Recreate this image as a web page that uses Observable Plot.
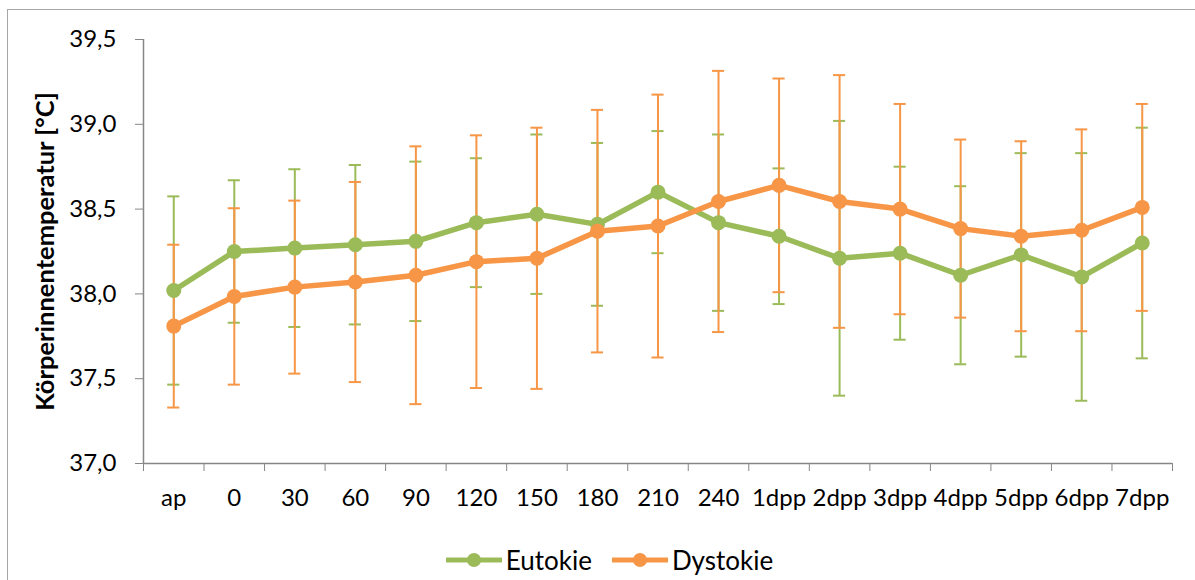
<!DOCTYPE html>
<html>
<head>
<meta charset="utf-8">
<script src="https://cdn.jsdelivr.net/npm/d3@7"></script>
<script src="https://cdn.jsdelivr.net/npm/@observablehq/plot@0.6"></script>
<style>
  body { margin: 0; background: #fff; font-family: Lato, "Open Sans", sans-serif; }
  #frame { position: relative; width: 1195px; height: 580px; overflow: hidden; }
  #border { position: absolute; left: 7px; top: 9px; width: 1300px; height: 700px; border: 1px solid #a6a6a6; }
  #chart { position: absolute; left: 0; top: 0; }
  #chart g[aria-label="y-axis label"] text { font-weight: bold; font-size: 25.5px; }
  #legend { position: absolute; left: 12px; top: 544px; width: 1195px; display: flex; justify-content: center; align-items: center; font-size: 26px; color: #000; }
  .item { display: flex; align-items: center; margin: 0 10px; }
  .item svg { margin-right: 4px; }
</style>
</head>
<body>
<div id="frame">
  <div id="border"></div>
  <div id="chart"></div>
  <div id="legend"></div>
</div>
<script>
// Time points: ante partum, minutes after birth, days post partum
const categories = ["ap", "0", "30", "60", "90", "120", "150", "180", "210", "240",
  "1dpp", "2dpp", "3dpp", "4dpp", "5dpp", "6dpp", "7dpp"];

// Mean body core temperature (°C) and standard deviation per group
const eutokieMean = [38.02, 38.25, 38.27, 38.29, 38.31, 38.42, 38.47, 38.41, 38.60, 38.42,
  38.34, 38.21, 38.24, 38.11, 38.23, 38.10, 38.30];
const eutokieSD = [0.555, 0.42, 0.465, 0.47, 0.47, 0.38, 0.47, 0.48, 0.36, 0.52,
  0.40, 0.81, 0.51, 0.525, 0.60, 0.73, 0.68];
const dystokieMean = [37.81, 37.985, 38.04, 38.07, 38.11, 38.19, 38.21, 38.37, 38.40, 38.545,
  38.64, 38.545, 38.50, 38.385, 38.34, 38.375, 38.51];
const dystokieSD = [0.48, 0.52, 0.51, 0.59, 0.76, 0.745, 0.77, 0.715, 0.775, 0.77,
  0.63, 0.745, 0.62, 0.525, 0.56, 0.595, 0.61];

const seriesNames = ["Eutokie", "Dystokie"];
const yTicks = [37.0, 37.5, 38.0, 38.5, 39.0, 39.5];

const colors = { Eutokie: "#9bbb59", Dystokie: "#f79646" };
const axisColor = "#868686";
const capHalf = 0.1; // half width of the error bar caps, in category steps

const rows = (mean, sd, series) => categories.map((cat, i) => ({
  i, cat, series, mean: mean[i], lo: mean[i] - sd[i], hi: mean[i] + sd[i]
}));
const eu = rows(eutokieMean, eutokieSD, "Eutokie");
const dy = rows(dystokieMean, dystokieSD, "Dystokie");

const fmt = d => d.toFixed(1).replace(".", ",");
const idx = categories.map((_, i) => i);
const bounds = d3.range(categories.length + 1).map(i => i - 0.5);

function errorBars(data) {
  const c = colors[data[0].series];
  return [
    Plot.ruleX(data, { x: "i", y1: "lo", y2: "hi", stroke: c, strokeWidth: 2 }),
    Plot.ruleY(data, { y: "hi", x1: d => d.i - capHalf, x2: d => d.i + capHalf, stroke: c, strokeWidth: 2 }),
    Plot.ruleY(data, { y: "lo", x1: d => d.i - capHalf, x2: d => d.i + capHalf, stroke: c, strokeWidth: 2 })
  ];
}
function series(data) {
  const c = colors[data[0].series];
  return [
    Plot.line(data, { x: "i", y: "mean", stroke: c, strokeWidth: 5.5 }),
    Plot.dot(data, { x: "i", y: "mean", r: 7.5, fill: c, stroke: "none" })
  ];
}

const chart = Plot.plot({
  width: 1195,
  height: 520,
  marginTop: 39,
  marginBottom: 57,
  marginLeft: 143,
  marginRight: 23,
  style: { fontFamily: "Lato, 'Open Sans', sans-serif", fontSize: "24px", color: "#000", background: "transparent", overflow: "visible" },
  x: { type: "linear", domain: [-0.5, categories.length - 0.5] },
  y: { domain: [37, 39.5] },
  marks: [
    Plot.axisY({ ticks: yTicks, tickSize: 8, tickPadding: 19, tickFormat: fmt, stroke: axisColor,
      label: "Körperinnentemperatur [°C]", labelAnchor: "center", labelArrow: "none", labelOffset: 108 }),
    Plot.axisX({ ticks: bounds, tickSize: 8, tickFormat: () => "", stroke: axisColor, label: null }),
    Plot.axisX({ ticks: idx, tickSize: 0, tickPadding: 25, tickFormat: i => categories[i], label: null }),
    Plot.ruleY([37], { stroke: axisColor, strokeWidth: 1.5 }),
    Plot.ruleX([-0.5], { stroke: axisColor, strokeWidth: 1.5 }),
    ...errorBars(eu),
    ...errorBars(dy),
    ...series(eu),
    ...series(dy)
  ]
});
document.getElementById("chart").appendChild(chart);

// Legend below the plot
const legend = document.getElementById("legend");
for (const name of seriesNames) {
  const item = document.createElement("div");
  item.className = "item";
  item.innerHTML = `<svg width="56" height="20"><line x1="1" y1="10" x2="55" y2="10" stroke="${colors[name]}" stroke-width="5" stroke-linecap="round"/><circle cx="28" cy="10" r="7" fill="${colors[name]}"/></svg><span>${name}</span>`;
  legend.appendChild(item);
}
</script>
</body>
</html>
